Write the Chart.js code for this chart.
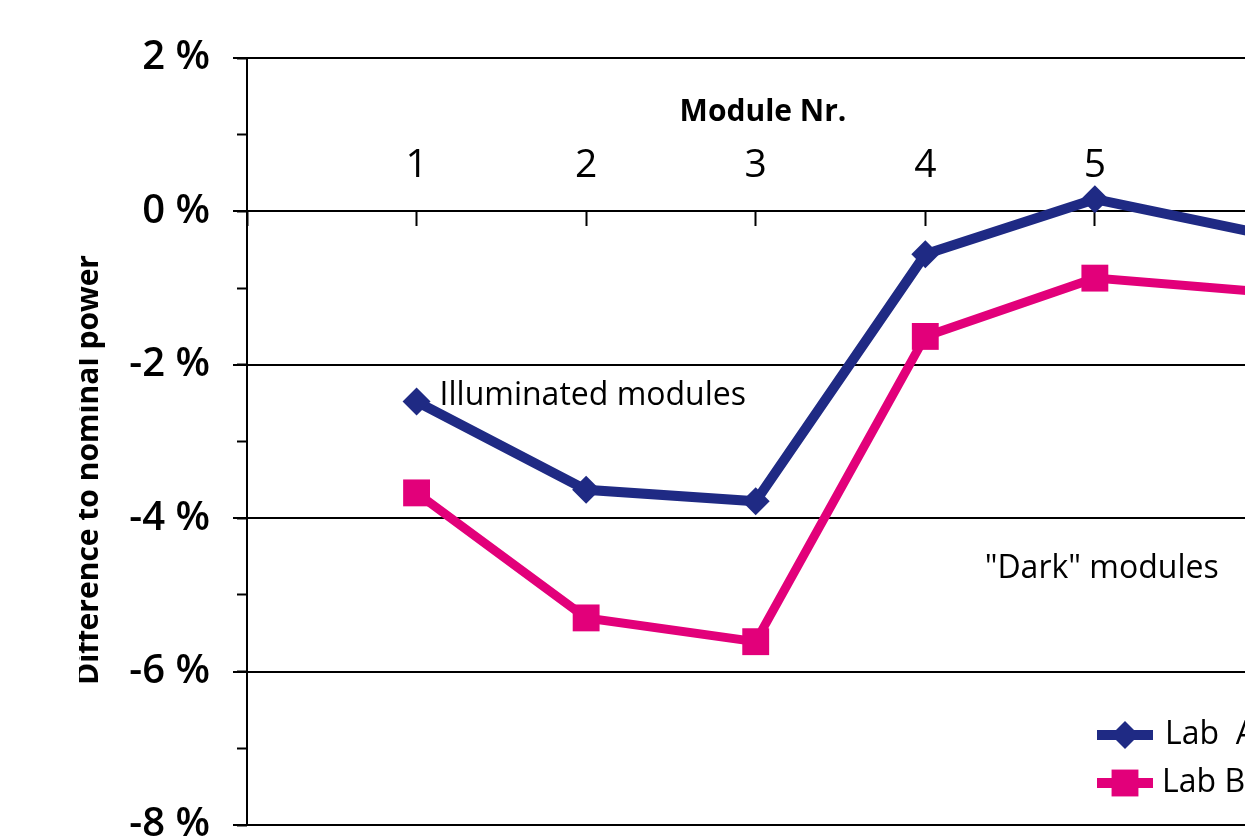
<!DOCTYPE html>
<html>
<head>
<meta charset="utf-8">
<script src="https://cdn.jsdelivr.net/npm/chart.js@4/dist/chart.umd.min.js"></script>
<style>
  html, body { margin: 0; padding: 0; background: #fff; }
  #wrap { width: 1245px; height: 837px; overflow: hidden; position: relative; }
  #chart { position: absolute; left: 0; top: 0; }
</style>
</head>
<body>
<div id="wrap"><canvas id="chart" width="1500" height="880"></canvas></div>
<script>
// Datos
var modulos = [1, 2, 3, 4, 5, 6];
var labA = [-2.48, -3.63, -3.78, -0.56, 0.16, -0.30];
var labB = [-3.67, -5.30, -5.61, -1.63, -0.87, -1.05];
var nombres = ["Lab  A", "Lab B"];
var tituloX = "Module Nr.";
var tituloY = "Difference to nominal power";
var notaIluminados = "Illuminated modules";
var notaOscuros = "\"Dark\" modules";

var azul = "#1f2a84";
var rosa = "#e2007a";
var fuente = "'Open Sans', 'DejaVu Sans', sans-serif";

function puntos(valores) {
  return modulos.map(function (m, i) { return { x: m, y: valores[i] }; });
}

// Textos sueltos y leyenda dibujados encima del gráfico
var textos = {
  id: "textos",
  afterDraw: function (chart) {
    var ctx = chart.ctx;
    var sx = chart.scales.x, sy = chart.scales.y;
    ctx.save();
    ctx.fillStyle = "#000";

    // título del eje x
    ctx.font = "bold 30px " + fuente;
    ctx.textAlign = "center";
    ctx.textBaseline = "middle";
    ctx.fillText(tituloX, 763, 112);

    // notas
    ctx.font = "32px " + fuente;
    ctx.textAlign = "left";
    ctx.textBaseline = "alphabetic";
    ctx.fillText(notaIluminados, sx.getPixelForValue(1) + 23, sy.getPixelForValue(-2.48) + 3);
    ctx.fillText(notaOscuros, sx.getPixelForValue(4.35), sy.getPixelForValue(-4.56) + 17);

    // leyenda
    var filas = [
      { nombre: nombres[0], color: azul, estilo: "rectRot", radio: 14, ancho: 10, y: 735, tx: 1165 },
      { nombre: nombres[1], color: rosa, estilo: "rect", radio: 19, ancho: 10, y: 783, tx: 1162 }
    ];
    filas.forEach(function (f) {
      ctx.strokeStyle = f.color;
      ctx.lineWidth = f.ancho;
      ctx.beginPath();
      ctx.moveTo(1097, f.y);
      ctx.lineTo(1153, f.y);
      ctx.stroke();
      ctx.fillStyle = f.color;
      Chart.helpers.drawPoint(ctx, { pointStyle: f.estilo, radius: f.radio, borderWidth: 0, rotation: 0 }, 1125, f.y);
      ctx.fillStyle = "#000";
      ctx.font = "32px " + fuente;
      ctx.textBaseline = "middle";
      ctx.fillText(f.nombre, f.tx, f.y);
    });

    // título del eje y, recortado por la izquierda
    ctx.beginPath();
    ctx.rect(79, 0, 200, chart.height);
    ctx.clip();
    ctx.translate(98, 470);
    ctx.rotate(-Math.PI / 2);
    ctx.font = "bold 30px " + fuente;
    ctx.textAlign = "center";
    ctx.textBaseline = "alphabetic";
    ctx.fillText(tituloY, 0, 0);
    ctx.restore();
  }
};

var chart = new Chart("chart", {
  type: "line",
  data: {
    datasets: [{
      label: nombres[0],
      data: puntos(labA),
      borderColor: azul,
      backgroundColor: azul,
      borderWidth: 10,
      pointStyle: "rectRot",
      pointRadius: 14,
      pointBorderWidth: 0,
      pointBackgroundColor: azul,
      tension: 0
    }, {
      label: nombres[1],
      data: puntos(labB),
      borderColor: rosa,
      backgroundColor: rosa,
      borderWidth: 9,
      pointStyle: "rect",
      pointRadius: 19,
      pointBorderWidth: 0,
      pointBackgroundColor: rosa,
      tension: 0
    }]
  },
  options: {
    responsive: false,
    animation: false,
    events: [],
    layout: { autoPadding: false, padding: { left: 0, top: 58, right: 66, bottom: 55 } },
    plugins: { legend: { display: false }, title: { display: false }, tooltip: { enabled: false } },
    scales: {
      x: {
        type: "linear",
        position: { y: 0 },
        min: 0,
        max: 7,
        ticks: {
          stepSize: 1,
          padding: -83,
          color: "#000",
          font: { family: fuente, size: 39 },
          callback: function (v) { return (v >= 1 && v <= 6) ? String(v) : ""; }
        },
        grid: { drawOnChartArea: false, drawTicks: true, tickLength: 14, tickColor: "#000", tickWidth: 2 },
        border: { display: true, color: "#000", width: 2 }
      },
      y: {
        type: "linear",
        position: "left",
        weight: 1,
        min: -8,
        max: 2,
        ticks: {
          stepSize: 2,
          padding: 23,
          color: "#000",
          font: { family: fuente, size: 40, weight: "600" },
          callback: function (v) { return v + " %"; }
        },
        grid: { color: "#000", lineWidth: 2, drawTicks: true, tickLength: 14, tickColor: "#000", tickWidth: 2 },
        border: { display: true, color: "#000", width: 2 },
        afterFit: function (s) { s.width = 247; }
      },
      yMenor: {
        type: "linear",
        position: "left",
        weight: 0,
        min: -8,
        max: 2,
        ticks: { stepSize: 1, display: false },
        grid: { drawOnChartArea: false, drawTicks: true, tickLength: 10, tickColor: "#000", tickWidth: 2 },
        border: { display: false },
        afterFit: function (s) { s.width = 0; }
      }
    }
  },
  plugins: [textos]
});
</script>
</body>
</html>
